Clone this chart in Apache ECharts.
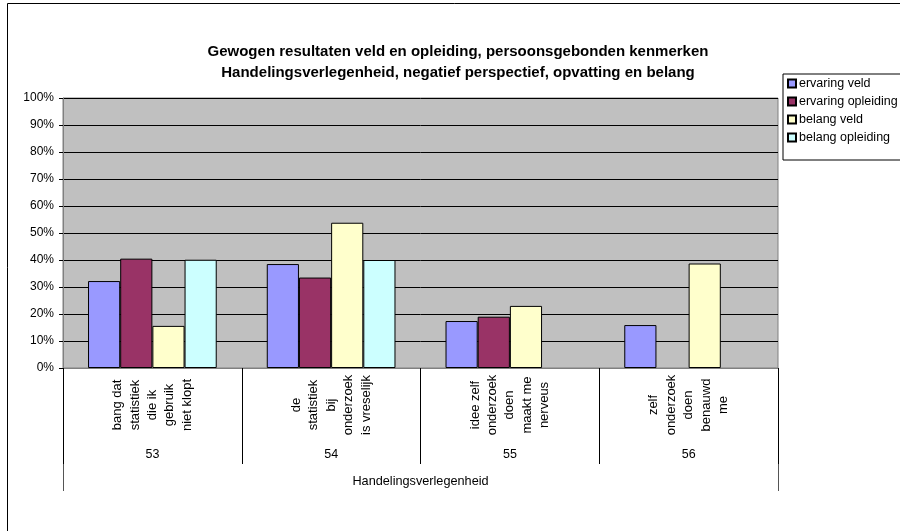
<!DOCTYPE html>
<html>
<head>
<meta charset="utf-8">
<script src="https://cdn.jsdelivr.net/npm/echarts@6/dist/echarts.min.js"></script>
<style>
  html, body { margin: 0; padding: 0; background: #fff; }
  #chart { width: 900px; height: 531px; }
</style>
</head>
<body>
<div id="chart"></div>
<script>
// item texts (rotated labels), item numbers and the group name
const itemLabels = [
  'bang dat\nstatistiek\ndie ik\ngebruik\nniet klopt',
  'de\nstatistiek\nbij\nonderzoek\nis vreselijk',
  'idee zelf\nonderzoek\ndoen\nmaakt me\nnerveus',
  'zelf\nonderzoek\ndoen\nbenauwd\nme'
];
const itemNumbers = ['53', '54', '55', '56'];
const groupName = ['Handelingsverlegenheid'];

const seriesNames = ['ervaring veld', 'ervaring opleiding', 'belang veld', 'belang opleiding'];
const ervaringVeld = [0.322, 0.385, 0.174, 0.159];
const ervaringOpleiding = [0.405, 0.335, 0.190, null];
const belangVeld = [0.156, 0.538, 0.230, 0.387];
const belangOpleiding = [0.401, 0.400, null, null];

const yTicks = [0, 0.1, 0.2, 0.3, 0.4, 0.5, 0.6, 0.7, 0.8, 0.9, 1];

const FONT = 'Liberation Sans, Arial, sans-serif';
const colors = ['#9999FF', '#993366', '#FFFFCC', '#CCFFFF'];

const chart = echarts.init(document.getElementById('chart'), null, { renderer: 'canvas' });

const values = [ervaringVeld, ervaringOpleiding, belangVeld, belangOpleiding];

const option = {
  animation: false,
  backgroundColor: '#ffffff',
  textStyle: { fontFamily: FONT, color: '#000' },
  title: {
    text: 'Gewogen resultaten veld en opleiding, persoonsgebonden kenmerken\nHandelingsverlegenheid, negatief perspectief, opvatting en belang',
    left: 453,
    textAlign: 'center',
    top: 36,
    textStyle: { fontFamily: FONT, fontSize: 15, fontWeight: 'bold', color: '#000', lineHeight: 21 }
  },
  graphic: [{
    type: 'rect',
    shape: { x: 7.5, y: 3.5, width: 1000, height: 1000 },
    style: { fill: 'none', stroke: '#000', lineWidth: 1 },
    silent: true,
    z: -1
  }],
  legend: {
    orient: 'vertical',
    left: 783,
    top: 74,
    data: seriesNames,
    icon: 'rect',
    itemWidth: 8,
    itemHeight: 8,
    itemGap: 5,
    padding: [3, 30, 16, 4],
    backgroundColor: '#fff',
    borderColor: '#000',
    borderWidth: 1,
    textStyle: { fontFamily: FONT, fontSize: 12.5, color: '#000', padding: [0, 0, 0, -2] }
  },
  grid: {
    left: 63,
    right: 122,
    top: 98,
    height: 270,
    show: true,
    backgroundColor: '#C0C0C0',
    borderColor: '#808080',
    borderWidth: 1
  },
  yAxis: {
    type: 'value',
    min: 0,
    max: 1,
    interval: 0.1,
    axisLine: { show: true, lineStyle: { color: '#808080', width: 1 } },
    axisTick: { show: true, length: 4, lineStyle: { color: '#000' } },
    axisLabel: {
      margin: 9,
      fontFamily: FONT,
      fontSize: 12,
      color: '#000',
      formatter: v => Math.round(v * 100) + '%',
      customValues: yTicks
    },
    splitLine: { show: true, lineStyle: { color: '#000', width: 1 } }
  },
  xAxis: [
    {
      type: 'category',
      data: itemLabels,
      position: 'bottom',
      axisLine: { show: true, onZero: false, lineStyle: { color: '#808080', width: 1 } },
      axisTick: { show: true, alignWithLabel: false, length: 96, lineStyle: { color: '#000' } },
      axisLabel: {
        rotate: 90,
        align: 'center',
        verticalAlign: 'middle',
        margin: 37,
        interval: 0,
        fontFamily: FONT,
        fontSize: 13,
        lineHeight: 17.4,
        color: '#000'
      },
      splitLine: { show: false }
    },
    {
      type: 'category',
      data: itemNumbers,
      position: 'bottom',
      offset: 0,
      axisLine: { show: false },
      axisTick: { show: false },
      axisLabel: { margin: 80, interval: 0, fontFamily: FONT, fontSize: 12.5, color: '#000' }
    },
    {
      type: 'category',
      data: groupName,
      position: 'bottom',
      offset: 96,
      axisLine: { show: false },
      axisTick: { show: true, alignWithLabel: false, length: 27, lineStyle: { color: '#555' } },
      axisLabel: { margin: 11, interval: 0, fontFamily: FONT, fontSize: 12.7, color: '#000' }
    }
  ],
  series: seriesNames.map((name, i) => ({
    name: name,
    type: 'bar',
    xAxisIndex: 0,
    data: values[i],
    barGap: '0%',
    barCategoryGap: '28%',
    itemStyle: { color: colors[i], borderColor: '#000', borderWidth: 1 }
  }))
};

chart.setOption(option);
</script>
</body>
</html>
